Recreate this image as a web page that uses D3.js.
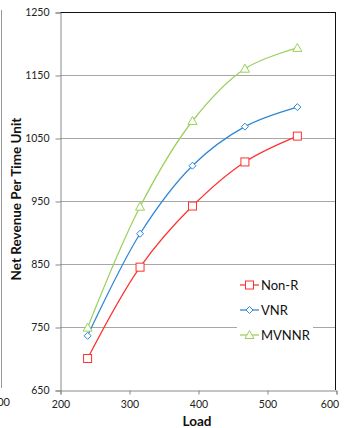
<!DOCTYPE html>
<html><head><meta charset="utf-8">
<script src="https://cdn.jsdelivr.net/npm/d3@7"></script>
<style>body{margin:0;background:#fff;}svg{display:block;}</style>
</head><body>
<svg id="c" width="344" height="428"></svg>
<script>
const loads = [240, 316, 392, 468, 544];
const nonR = [700, 845, 942, 1012, 1053];
const vnr = [736, 898, 1006, 1068, 1099];
const mvnnr = [749, 941, 1077, 1160, 1193];
const xTicks = [200, 300, 400, 500, 600];
const yTicks = [650, 750, 850, 950, 1050, 1150, 1250];
const seriesNames = ["Non-R", "VNR", "MVNNR"];

const series = [
  {name: seriesNames[0], values: nonR, color: "#ff3030", shape: "square"},
  {name: seriesNames[1], values: vnr, color: "#2e86d4", shape: "diamond"},
  {name: seriesNames[2], values: mvnnr, color: "#9ad15a", shape: "triangle"}
];

const svg = d3.select("#c");
const font = "Lato, 'Open Sans', sans-serif";
const x = d3.scaleLinear().domain([200, 600]).range([60, 336]);
const y = d3.scaleLinear().domain([650, 1250]).range([390, 12]);

// neighbouring chart fragment at left edge
svg.append("line").attr("x1", 1.5).attr("x2", 1.5).attr("y1", 10).attr("y2", 388)
  .attr("stroke", "#999").attr("stroke-width", 1);
svg.append("text").attr("x", 10).attr("y", 406).attr("text-anchor", "end")
  .attr("font-family", font).attr("font-size", 11).attr("fill", "#222").text("300");

// gridlines
svg.append("g").selectAll("line").data(yTicks.filter(d => d > 650 && d < 1250)).join("line")
  .attr("x1", 60).attr("x2", 336).attr("y1", d => Math.round(y(d)) + 0.5).attr("y2", d => Math.round(y(d)) + 0.5)
  .attr("stroke", "#a6a6a6").attr("stroke-width", 1);

// top and right borders
svg.append("line").attr("x1", 60).attr("x2", 336).attr("y1", 12.5).attr("y2", 12.5).attr("stroke", "#111");
svg.append("line").attr("x1", 335.5).attr("x2", 335.5).attr("y1", 12).attr("y2", 390).attr("stroke", "#111");

// axes
const yAxis = svg.append("g").attr("transform", "translate(60.5,0.5)")
  .call(d3.axisLeft(y).tickValues(yTicks).tickFormat(d3.format("d")).tickSize(5).tickPadding(6));
const xAxis = svg.append("g").attr("transform", "translate(0.5,390.5)")
  .call(d3.axisBottom(x).tickValues(xTicks).tickFormat(d3.format("d")).tickSize(4).tickPadding(6));
[xAxis, yAxis].forEach(a => {
  a.select(".domain").attr("stroke", "#888");
  a.selectAll(".tick line").attr("stroke", "#888");
  a.selectAll("text").attr("font-family", font).attr("font-size", 10.5).attr("fill", "#222");
});
xAxis.selectAll(".tick").filter(d => d === 600).select("text").attr("dx", -7);

// titles
svg.append("text").attr("transform", "translate(21,199) rotate(-90)").attr("text-anchor", "middle")
  .attr("font-family", font).attr("font-size", 13.5).attr("font-weight", "bold").attr("fill", "#111")
  .text("Net Revenue Per Time Unit");
svg.append("text").attr("x", 197).attr("y", 426).attr("text-anchor", "middle")
  .attr("font-family", font).attr("font-size", 13.5).attr("font-weight", "bold").attr("fill", "#111")
  .text("Load");

function marker(g, shape, color, cx, cy) {
  if (shape === "square") {
    g.append("rect").attr("x", cx - 4).attr("y", cy - 4).attr("width", 8).attr("height", 8)
      .attr("fill", "#fff").attr("stroke", color).attr("stroke-width", 1);
  } else if (shape === "diamond") {
    g.append("path").attr("d", `M${cx},${cy-3.5}L${cx+3.5},${cy}L${cx},${cy+3.5}L${cx-3.5},${cy}Z`)
      .attr("fill", "#fff").attr("stroke", color).attr("stroke-width", 1);
  } else {
    g.append("path").attr("d", `M${cx},${cy-4.5}L${cx+4.5},${cy+3.5}L${cx-4.5},${cy+3.5}Z`)
      .attr("fill", "#fff").attr("stroke", color).attr("stroke-width", 1);
  }
}

const line = d3.line().x(d => x(d[0])).y(d => y(d[1])).curve(d3.curveCatmullRom.alpha(0.5));
const plot = svg.append("g");
series.forEach(s => {
  const pts = loads.map((l, i) => [l, s.values[i]]);
  plot.append("path").attr("d", line(pts)).attr("fill", "none").attr("stroke", s.color).attr("stroke-width", 1.25);
});
series.forEach(s => {
  const g = plot.append("g");
  loads.forEach((l, i) => marker(g, s.shape, s.color, x(l), y(s.values[i])));
});

// legend
const lg = svg.append("g");
lg.append("rect").attr("x", 237).attr("y", 272).attr("width", 76).attr("height", 76).attr("fill", "#fff");
series.forEach((s, i) => {
  const cy = 285 + i * 25;
  lg.append("line").attr("x1", 240).attr("x2", 259).attr("y1", cy).attr("y2", cy)
    .attr("stroke", s.color).attr("stroke-width", 1.25);
  marker(lg, s.shape, s.color, 249.5, cy);
  lg.append("text").attr("x", 261).attr("y", cy + 4.5).attr("font-family", font)
    .attr("font-size", 13).attr("fill", "#111").text(s.name);
});
</script>
</body></html>
